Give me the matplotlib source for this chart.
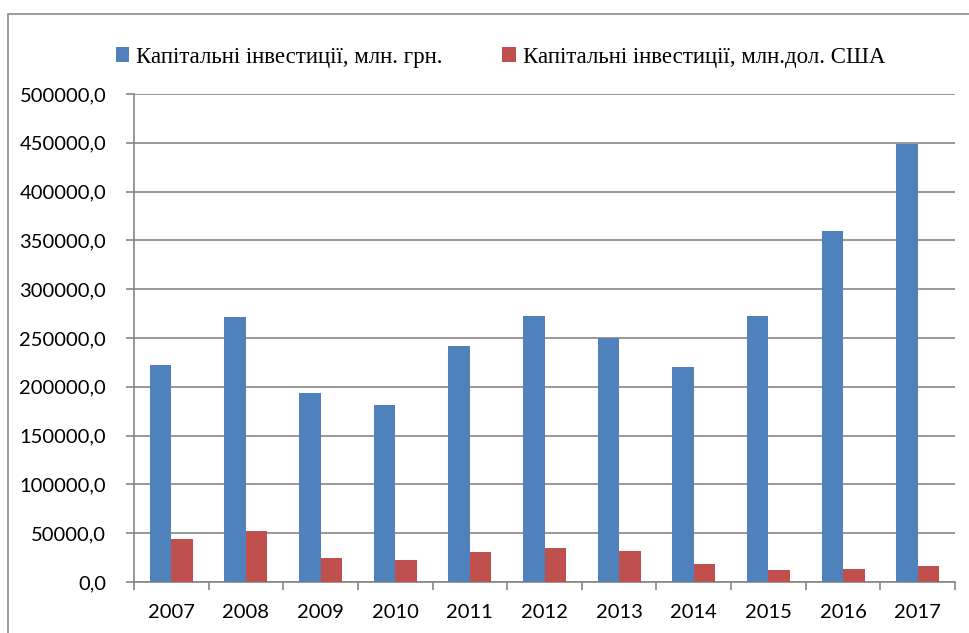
import matplotlib.pyplot as plt
import numpy as np
from matplotlib.patches import Rectangle

years = ['2007', '2008', '2009', '2010', '2011', '2012', '2013', '2014', '2015', '2016', '2017']
inv_uah = [222700, 272000, 193200, 181000, 241300, 273000, 250500, 219800, 273000, 359200, 448900]
inv_usd = [44000, 52100, 24500, 22500, 30700, 34800, 31700, 18400, 12300, 13300, 16400]

label_uah = 'Капітальні інвестиції, млн. грн.'
label_usd = 'Капітальні інвестиції, млн.дол. США'

blue = '#4f81bd'
red = '#c0504d'
grid_col = '#868686'

W, H = 969, 633
fig = plt.figure(figsize=(W / 100, H / 100), dpi=100)

# outer chart frame (cropped at right and bottom)
fig.patches.append(Rectangle((8 / W, -0.1), 1.1, 1.1 - 14 / H, transform=fig.transFigure,
                             fill=False, edgecolor='#8c8c8c', linewidth=1.2))

ax = fig.add_axes([134 / W, 1 - 582 / H, (955 - 134) / W, (582 - 94) / H])

x = np.arange(len(years))
w = 0.288
ax.bar(x - w / 2, inv_uah, width=w, color=blue, label=label_uah, zorder=3)
ax.bar(x + w / 2, inv_usd, width=w, color=red, label=label_usd, zorder=3)

ax.set_xlim(-0.5, len(years) - 0.5)
ax.set_ylim(0, 500000)
ax.set_yticks(np.arange(0, 500001, 50000))
ax.set_yticklabels([f'{v},0' for v in range(0, 500001, 50000)], fontsize=14.5, family='Lato')
ax.set_xticks(x)
ax.set_xticklabels(years, fontsize=14.5, family='Lato')
ax.set_xticks(np.arange(-0.5, len(years)), minor=True)
ax.tick_params(axis='x', which='major', length=0, pad=16)
ax.tick_params(axis='x', which='minor', length=6, color=grid_col, width=1.2)
ax.tick_params(axis='y', length=6, color=grid_col, width=1.2, pad=14)

ax.grid(axis='y', color=grid_col, linewidth=1.2, zorder=0)
for s in ['top', 'right']:
    ax.spines[s].set_visible(False)
for s in ['left', 'bottom']:
    ax.spines[s].set_color(grid_col)
    ax.spines[s].set_linewidth(1.2)

fig.legend(loc='upper left', bbox_to_anchor=(95 / W, 1 - 26 / H), ncol=2, frameon=False,
           prop={'family': 'Liberation Serif', 'size': 16.5}, handlelength=0.6, handleheight=0.6,
           handletextpad=0.3, columnspacing=2.6)

fig.savefig('out.png', dpi=100)
